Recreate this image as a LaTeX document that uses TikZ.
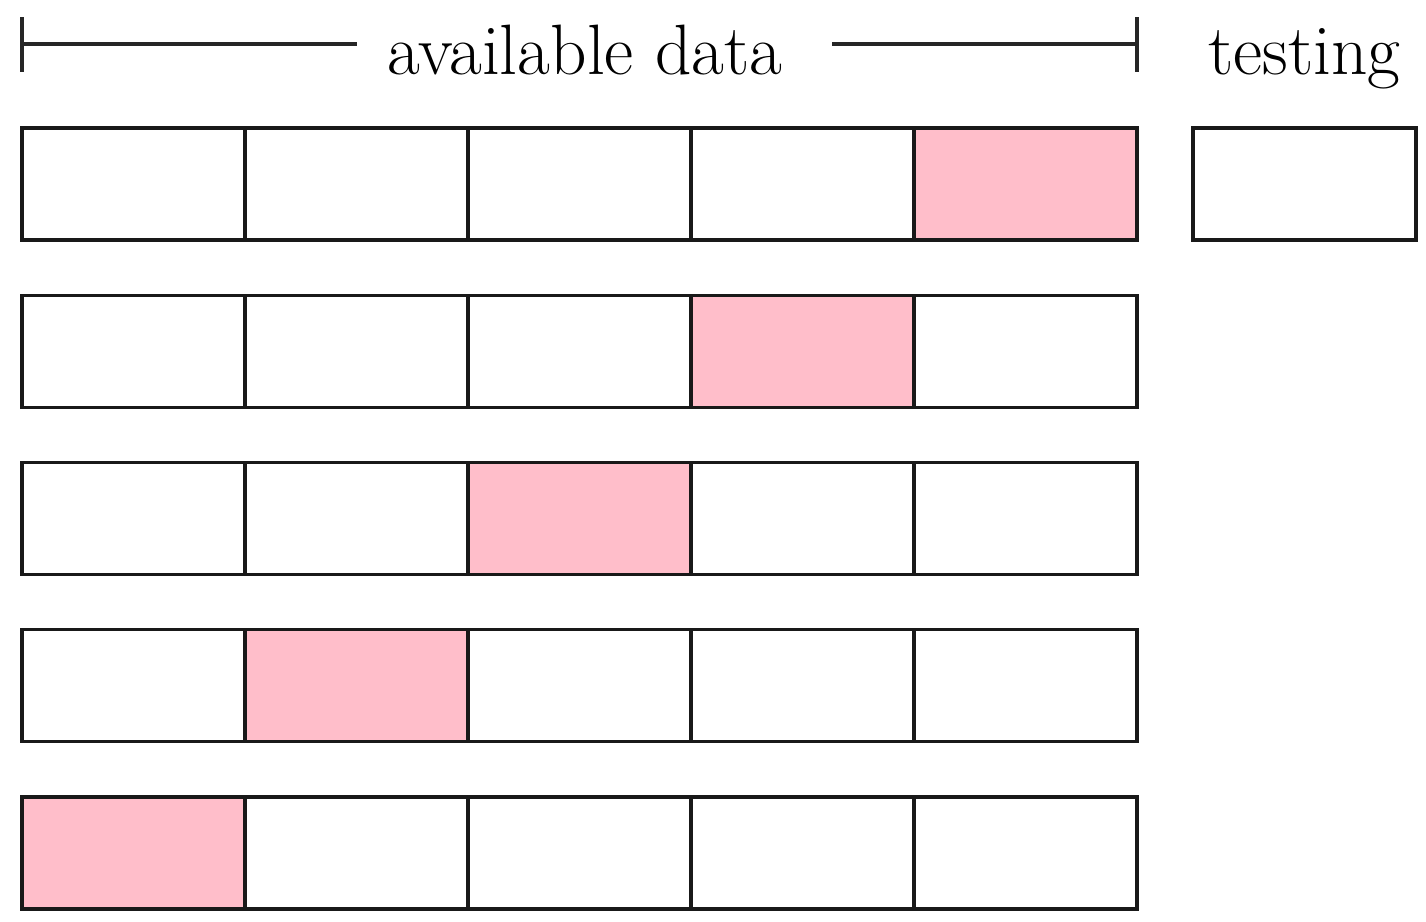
\documentclass[tikz,border=0pt]{standalone}
\usetikzlibrary{positioning}
\definecolor{foldpink}{RGB}{255,190,202}
\begin{document}
\begin{tikzpicture}[font=\fontsize{20.3}{24}\selectfont]

\tikzset{cell/.style={draw=black!90,line width=0.9pt,minimum width=2.23cm,minimum height=1.12cm,inner sep=0pt,outer sep=0pt,shape=rectangle},
valcell/.style={cell,fill=foldpink},
bracket/.style={black!85,line width=0.9pt}}

\useasboundingbox (0,0) rectangle (14.26,9.22);

% Folds, one held-out cell per row
\foreach \r in {1,...,5} \foreach \c in {1,...,5} {
  \pgfmathtruncatemacro{\v}{6-\r}
  \ifnum\c=\v \def\sty{valcell}\else\def\sty{cell}\fi
  \node[\sty] (c\r\c) at ({1.335+2.23*(\c-1)}, {7.38-1.6725*(\r-1)}) {};
}

% Test set
\node[cell,right=0.56cm of c15] (test) {};

% Labels
\node[anchor=base,inner xsep=0.30cm] (avail) at (5.85,8.47) {available data};
\node[anchor=base] (testlbl) at (test.center |- 0,8.47) {testing};

% Bracket over the available data
\coordinate (bl) at (c11.west |- 0,8.78);
\coordinate (br) at (c15.east |- 0,8.78);
\draw[bracket] (bl) -- (bl -| avail.west);
\draw[bracket,shorten <=0.19cm] (br -| avail.east) -- (br);
\draw[bracket] ([yshift=-0.28cm]bl) -- ([yshift=0.27cm]bl);
\draw[bracket] ([yshift=-0.28cm]br) -- ([yshift=0.27cm]br);

\end{tikzpicture}
\end{document}
